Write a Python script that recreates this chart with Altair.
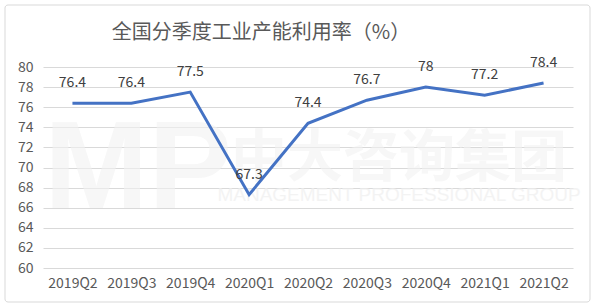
import altair as alt
import pandas as pd

quarters = ["2019Q2", "2019Q3", "2019Q4", "2020Q1", "2020Q2", "2020Q3", "2020Q4", "2021Q1", "2021Q2"]
values = [76.4, 76.4, 77.5, 67.3, 74.4, 76.7, 78, 77.2, 78.4]
labels = ["76.4", "76.4", "77.5", "67.3", "74.4", "76.7", "78", "77.2", "78.4"]
y_ticks = [60, 62, 64, 66, 68, 70, 72, 74, 76, 78, 80]
title_text = "全国分季度工业产能利用率（%）"

df = pd.DataFrame({"q": quarters, "v": values, "lab": labels})
one = pd.DataFrame({"k": [0]})
FONT = "Noto Sans CJK SC"

x_enc = alt.X("q:N", sort=quarters, title=None,
              scale=alt.Scale(paddingInner=0, paddingOuter=0, align=0.5),
              axis=alt.Axis(labelAngle=0, labelFontSize=14, labelColor="#595959", labelFont=FONT,
                            ticks=False, domain=False, grid=False, labelPadding=8,
                            labelOverlap=False))
y_enc = alt.Y("v:Q", title=None,
              scale=alt.Scale(domain=[60, 80], nice=False, zero=False),
              axis=alt.Axis(values=y_ticks, labelFontSize=14, labelColor="#595959",
                            labelFont=FONT, ticks=False, domain=False, gridColor="#d9d9d9",
                            gridWidth=1, labelPadding=10, labelOverlap=False, tickCount=11))

base = alt.Chart(df)
single = alt.Chart(one)

border = single.mark_rect(fill=None, stroke="#d9d9d9", strokeWidth=1, cornerRadius=3).encode(
    x=alt.value(-38), x2=alt.value(547), y=alt.value(-62), y2=alt.value(235))

wm1 = single.mark_text(text="MP", fontSize=125, fontWeight="bold", font="Liberation Sans",
                       color="#f2f2f2", opacity=0.6, align="center", baseline="middle").encode(
    x=alt.value(95), y=alt.value(103))
wm2 = single.mark_text(text="中大咨询集团", fontSize=56, fontWeight="bold", font=FONT,
                       color="#f2f2f2", opacity=0.6, align="center", baseline="middle").encode(
    x=alt.value(356), y=alt.value(92))
wm3 = single.mark_text(text="MANAGEMENT PROFESSIONAL GROUP", fontSize=19, font="Liberation Sans",
                       color="#efefef", opacity=0.7, align="center", baseline="middle").encode(
    x=alt.value(356), y=alt.value(128))

title = single.mark_text(text=title_text, fontSize=20, font=FONT, fontWeight="normal",
                         color="#595959", align="center", baseline="middle").encode(
    x=alt.value(218), y=alt.value(-34))

line = base.mark_line(color="#4472C4", strokeWidth=3).encode(x=x_enc, y=y_enc)
text = base.mark_text(dy=-20, fontSize=14, font=FONT, color="#404040").encode(
    x=x_enc, y=y_enc, text="lab:N")

chart = alt.layer(border, wm1, wm2, wm3, title, line, text).properties(
    width=530, height=201,
    padding={"left": 43, "top": 67, "right": 24, "bottom": 39},
    autosize=alt.AutoSizeParams(type="none"),
    background="white",
).configure_view(stroke=None)

chart.save("out.html", embed_options={"renderer": "svg", "actions": False})
